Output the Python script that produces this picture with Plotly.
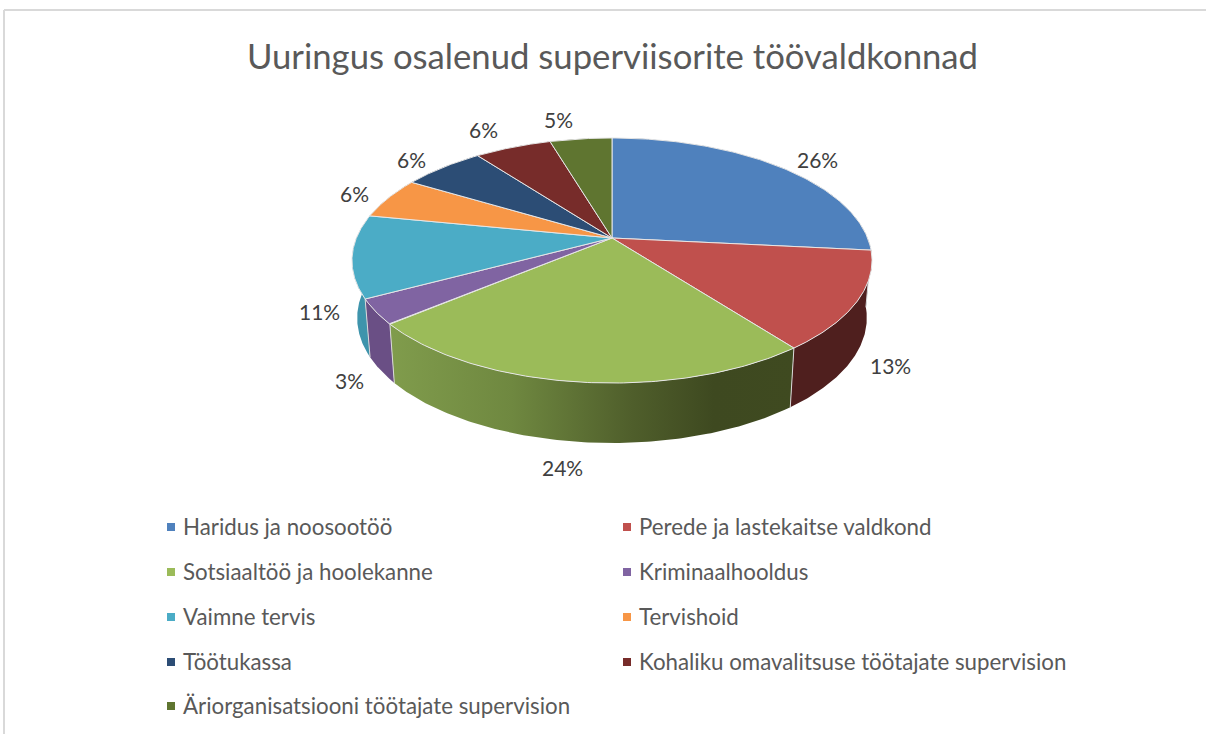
import numpy as np
import plotly.graph_objects as go

title = "Uuringus osalenud superviisorite töövaldkonnad"
categories = ["Haridus ja noosootöö", "Perede ja lastekaitse valdkond", "Sotsiaaltöö ja hoolekanne",
              "Kriminaalhooldus", "Vaimne tervis", "Tervishoid", "Töötukassa",
              "Kohaliku omavalitsuse töötajate supervision", "Äriorganisatsiooni töötajate supervision"]
values = [26.6, 13.0, 24.3, 3.3, 10.9, 5.5, 6.1, 5.7, 4.6]
labels = ["26%", "13%", "24%", "3%", "11%", "6%", "6%", "6%", "5%"]
colors = ["#4F81BD", "#C0504D", "#9BBB59", "#8064A2", "#4BACC6", "#F79646", "#2C4D75", "#772C2A", "#5F7530"]
rim_colors = ["#3B618E", "#4F1F1E", "#5F7530", "#6A4F85", "#3E94AC", "#B97035", "#213A58", "#59211F", "#475824"]

# ---- geometry of the perspective pie, in page pixels
CX, CY, A, B, K = 612.0, 238.0, 118.4, 255.6, 0.1837
LOW_SX, LOW_SY, LOW_CY = 0.98, 1.02, 295.0
LABEL_POS = [(817, 159), (890, 365), (562, 467), (349, 380), (319, 311), (354, 193), (411, 159), (483, 129), (558, 119)]
LEGEND_ROWS = [527, 572, 617, 662, 706]
LEGEND_COLS = [171, 627]
TEXT_DX = 10
FONT = "Lato"


def top(theta):
    u, v = np.sin(theta), -np.cos(theta)
    den = 1 - K * v
    return CX + B * u / den, CY + A * v / den


def low(theta):
    x, y = top(theta)
    return CX + LOW_SX * (x - CX), LOW_CY + LOW_SY * (y - CY)


fractions = np.array(values) / sum(values)
edges = np.concatenate([[0], np.cumsum(fractions)]) * 2 * np.pi
fig = go.Figure()

# side wall, back slices first
mids = [-(np.cos((edges[i] + edges[i + 1]) / 2)) for i in range(len(values))]
for i in np.argsort(mids):
    t = np.linspace(edges[i], edges[i + 1], 120)
    tx, ty = top(t)
    bx, by = low(t)
    xs = np.concatenate([tx, bx[::-1], tx[:1]])
    ys = np.concatenate([ty, by[::-1], ty[:1]])
    kw = dict(fillcolor=rim_colors[i])
    if i == 2:
        kw = dict(fillgradient=dict(type="horizontal", start=390, stop=795,
                                    colorscale=[[0, "#809C4C"], [0.3, "#6F8840"], [0.6, "#4F5E2B"],
                                                [0.8, "#3E4920"], [1, "#3F4A20"]]))
    fig.add_trace(go.Scatter(x=xs, y=ys, mode="lines", fill="toself", line=dict(width=0),
                             hoverinfo="skip", showlegend=False, **kw))

# light seams on the wall
for e in edges[:-1]:
    tx, ty = top(e)
    bx, by = low(e)
    fig.add_trace(go.Scatter(x=[tx, bx], y=[ty, by], mode="lines", line=dict(color="#D9D9D9", width=1),
                             hoverinfo="skip", showlegend=False))

# top surface
for i in range(len(values)):
    t = np.linspace(edges[i], edges[i + 1], 120)
    tx, ty = top(t)
    xs = np.concatenate([[CX], tx, [CX]])
    ys = np.concatenate([[CY], ty, [CY]])
    fig.add_trace(go.Scatter(x=xs, y=ys, mode="lines", fill="toself", fillcolor=colors[i],
                             line=dict(color="#E6E6E6", width=1), name=categories[i],
                             hoverinfo="name", showlegend=False))

# data labels
for lab, (x, y) in zip(labels, LABEL_POS):
    fig.add_annotation(x=x, y=y, text=lab, showarrow=False, xanchor="center", yanchor="middle",
                       font=dict(family=FONT, size=21, color="#404040"))

# legend
for i, name in enumerate(categories):
    col, row = LEGEND_COLS[i % 2], LEGEND_ROWS[i // 2]
    fig.add_trace(go.Scatter(x=[col], y=[row], mode="markers", hoverinfo="skip", showlegend=False,
                             marker=dict(symbol="square", size=8, color=colors[i])))
    fig.add_annotation(x=col + TEXT_DX, y=row - 1, text=name, showarrow=False, xanchor="left", yanchor="middle",
                       font=dict(family=FONT, size=22.3, color="#595959"))

fig.add_annotation(x=612, y=55, text=title, showarrow=False, xanchor="center", yanchor="middle",
                   font=dict(family=FONT, size=34.7, color="#595959"))

# chart frame
fig.add_shape(type="line", x0=4, x1=1206, y0=10, y1=10, line=dict(color="#D9D9D9", width=2))
fig.add_shape(type="line", x0=4, x1=4, y0=10, y1=734, line=dict(color="#D9D9D9", width=2))

fig.update_layout(width=1206, height=734, margin=dict(l=0, r=0, t=0, b=0), paper_bgcolor="white",
                  plot_bgcolor="white", showlegend=False,
                  xaxis=dict(range=[0, 1206], visible=False, fixedrange=True),
                  yaxis=dict(range=[734, 0], visible=False, fixedrange=True))
fig.write_html("out.html", config=dict(displayModeBar=False),
               post_script="document.body.style.margin='0';document.body.style.overflow='hidden';")
